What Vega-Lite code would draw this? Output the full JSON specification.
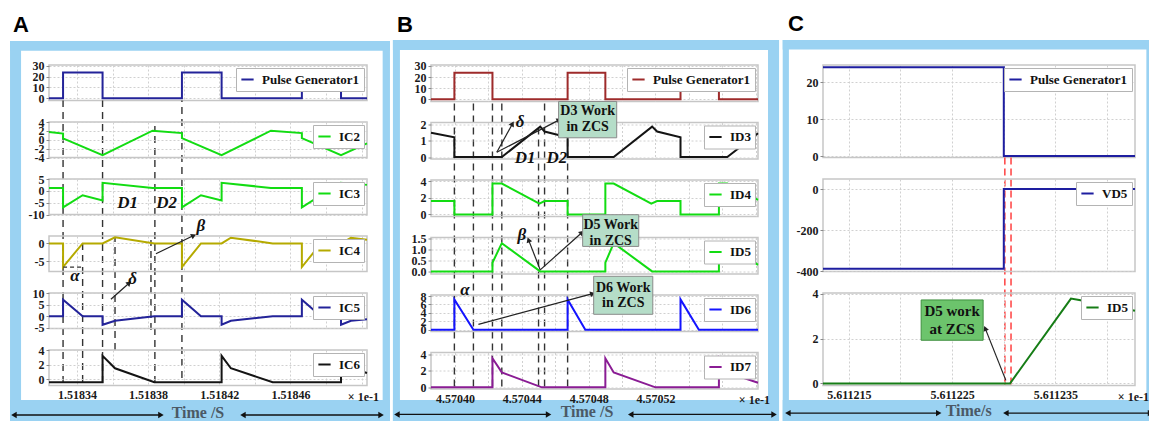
{
"$schema": "https://vega.github.io/schema/vega-lite/v6.json",
"background": "white",
"padding": {"left": 9, "top": 12, "right": 0, "bottom": 0},
"spacing": 1,
"resolve": {"scale": {"color": "independent"}},
"config": {
  "locale": {"number": {"decimal": ".", "thousands": ",", "grouping": [3], "currency": ["$", ""], "minus": "-"}},
  "view": {"stroke": "#c6c6c6", "strokeWidth": 1.5},
  "axis": {"labelFont": "Liberation Serif", "labelFontWeight": "bold", "labelFontSize": 12, "labelColor": "#1a1a1a", "domain": false, "grid": true, "gridColor": "#d0d0d0", "gridDash": [2, 2], "tickColor": "#8a8a8a", "tickSize": 3, "labelOverlap": false, "labelPadding": 2},
  "legend": {"orient": "top-right", "offset": 3, "symbolType": "stroke", "symbolStrokeWidth": 2.5, "symbolSize": 150, "labelFont": "Liberation Serif", "labelFontWeight": "bold", "labelFontSize": 13, "labelColor": "#111111", "fillColor": "white", "strokeColor": "#b4b4b4", "padding": 4, "labelOffset": 7},
  "title": {"font": "Liberation Sans", "fontWeight": "bold", "fontSize": 22, "anchor": "start", "color": "#000000", "frame": "group"},
  "line": {"strokeWidth": 2}
},
"datasets": {
  "A_pg": [{"t":1.5183243,"v":0},{"t":1.5183322,"v":24},{"t":1.5183544,"v":0},{"t":1.518399,"v":24},{"t":1.5184213,"v":0},{"t":1.5184664,"v":24},{"t":1.5184884,"v":0},{"t":1.518503,"v":0}],
  "A_ic2": [{"t":1.5183243,"v":1.76},{"t":1.5183322,"v":1.4},{"t":1.5183322,"v":0.3},{"t":1.5183544,"v":-3.45},{"t":1.5183825,"v":2.05},{"t":1.518399,"v":1.5},{"t":1.518399,"v":0.35},{"t":1.5184213,"v":-3.45},{"t":1.518449,"v":2.05},{"t":1.5184664,"v":1.5},{"t":1.5184664,"v":0.35},{"t":1.5184884,"v":-3.45},{"t":1.518503,"v":-0.8}],
  "A_ic3": [{"t":1.5183243,"v":1.3},{"t":1.5183322,"v":1.3},{"t":1.5183322,"v":-7},{"t":1.5183432,"v":-1.8},{"t":1.5183544,"v":-4},{"t":1.5183544,"v":3.5},{"t":1.5183825,"v":1.3},{"t":1.518399,"v":1.3},{"t":1.518399,"v":-7},{"t":1.5184097,"v":-1.8},{"t":1.5184213,"v":-4},{"t":1.5184213,"v":3.5},{"t":1.518449,"v":1.3},{"t":1.5184664,"v":1.3},{"t":1.5184664,"v":-7},{"t":1.5184771,"v":-1.8},{"t":1.5184884,"v":-4},{"t":1.5184884,"v":3.5},{"t":1.518503,"v":2.6}],
  "A_ic4": [{"t":1.5183243,"v":0},{"t":1.5183322,"v":0},{"t":1.5183322,"v":-6.6},{"t":1.5183432,"v":0},{"t":1.5183544,"v":0},{"t":1.5183614,"v":1.7},{"t":1.5183835,"v":0},{"t":1.518399,"v":0},{"t":1.518399,"v":-6.6},{"t":1.5184097,"v":0},{"t":1.5184213,"v":0},{"t":1.5184265,"v":1.6},{"t":1.51845,"v":0},{"t":1.5184664,"v":0},{"t":1.5184664,"v":-6.6},{"t":1.5184771,"v":0},{"t":1.5184884,"v":0},{"t":1.518494,"v":1.6},{"t":1.518503,"v":1.0}],
  "A_ic5": [{"t":1.5183243,"v":0},{"t":1.5183322,"v":0},{"t":1.5183322,"v":7.1},{"t":1.5183432,"v":0},{"t":1.5183544,"v":0},{"t":1.5183544,"v":-3.7},{"t":1.5183614,"v":-2},{"t":1.5183835,"v":0},{"t":1.518399,"v":0},{"t":1.518399,"v":7.1},{"t":1.5184097,"v":0},{"t":1.5184213,"v":0},{"t":1.5184213,"v":-3.7},{"t":1.5184265,"v":-2},{"t":1.51845,"v":0},{"t":1.5184664,"v":0},{"t":1.5184664,"v":7.1},{"t":1.5184771,"v":0},{"t":1.5184884,"v":0},{"t":1.5184884,"v":-3.7},{"t":1.518494,"v":-2},{"t":1.518503,"v":-1.3}],
  "A_ic6": [{"t":1.5183243,"v":-0.4},{"t":1.5183544,"v":-0.4},{"t":1.5183544,"v":3.2},{"t":1.5183614,"v":1.5},{"t":1.5183835,"v":-0.4},{"t":1.5184213,"v":-0.4},{"t":1.5184213,"v":3.2},{"t":1.5184265,"v":1.5},{"t":1.51845,"v":-0.4},{"t":1.5184884,"v":-0.4},{"t":1.5184884,"v":3.2},{"t":1.518494,"v":1.5},{"t":1.518503,"v":0.85}],
  "B_pg": [{"t":4.5703856,"v":0},{"t":4.5703996,"v":24},{"t":4.5704224,"v":0},{"t":4.5704674,"v":24},{"t":4.57049,"v":0},{"t":4.570535,"v":24},{"t":4.570558,"v":0},{"t":4.5705814,"v":0}],
  "B_id3": [{"t":4.5703856,"v":1.48},{"t":4.5703996,"v":1.2},{"t":4.5703996,"v":0},{"t":4.570428,"v":0},{"t":4.570451,"v":1.85},{"t":4.5704536,"v":1.55},{"t":4.5704674,"v":1.2},{"t":4.5704674,"v":0},{"t":4.570495,"v":0},{"t":4.570518,"v":1.85},{"t":4.570521,"v":1.55},{"t":4.570535,"v":1.2},{"t":4.570535,"v":0},{"t":4.570563,"v":0},{"t":4.5705814,"v":1.45}],
  "B_id4": [{"t":4.5703856,"v":1.6},{"t":4.5703996,"v":1.6},{"t":4.5703996,"v":0},{"t":4.5704224,"v":0},{"t":4.5704224,"v":3.7},{"t":4.570428,"v":3.7},{"t":4.5704505,"v":1.3},{"t":4.5704536,"v":1.6},{"t":4.5704674,"v":1.6},{"t":4.5704674,"v":0},{"t":4.57049,"v":0},{"t":4.57049,"v":3.7},{"t":4.570495,"v":3.7},{"t":4.5705175,"v":1.3},{"t":4.570521,"v":1.6},{"t":4.570535,"v":1.6},{"t":4.570535,"v":0},{"t":4.570558,"v":0},{"t":4.570558,"v":3.7},{"t":4.570563,"v":3.7},{"t":4.5705814,"v":1.75}],
  "B_id5": [{"t":4.5703856,"v":0},{"t":4.5704224,"v":0},{"t":4.5704224,"v":0.4},{"t":4.570428,"v":1.3},{"t":4.570451,"v":0},{"t":4.57049,"v":0},{"t":4.57049,"v":0.4},{"t":4.570495,"v":1.3},{"t":4.570518,"v":0},{"t":4.570558,"v":0},{"t":4.570558,"v":0.4},{"t":4.570563,"v":1.3},{"t":4.5705814,"v":0.3}],
  "B_id6": [{"t":4.5703856,"v":0},{"t":4.5703996,"v":0},{"t":4.5703996,"v":7.2},{"t":4.570411,"v":0},{"t":4.5704674,"v":0},{"t":4.5704674,"v":7.2},{"t":4.570478,"v":0},{"t":4.570535,"v":0},{"t":4.570535,"v":7.2},{"t":4.570546,"v":0},{"t":4.5705814,"v":0}],
  "B_id7": [{"t":4.5703856,"v":0},{"t":4.5704224,"v":0},{"t":4.5704224,"v":3.5},{"t":4.570428,"v":1.8},{"t":4.570452,"v":0},{"t":4.57049,"v":0},{"t":4.57049,"v":3.5},{"t":4.570495,"v":1.8},{"t":4.57052,"v":0},{"t":4.570558,"v":0},{"t":4.570558,"v":3.5},{"t":4.570563,"v":1.8},{"t":4.5705814,"v":0.55}],
  "C_pg": [{"t":5.6112125,"v":24},{"t":5.61123,"v":0},{"t":5.6112427,"v":0}],
  "C_vd5": [{"t":5.6112125,"v":-388},{"t":5.61123,"v":0},{"t":5.6112427,"v":0}],
  "C_id5": [{"t":5.6112125,"v":0},{"t":5.6112306,"v":0},{"t":5.6112365,"v":3.79},{"t":5.6112373,"v":3.73},{"t":5.6112427,"v":3.25}]
},
"hconcat": [
 {
  "bounds": "flush", "spacing": 21,
  "resolve": {"scale": {"color": "independent"}},
  "vconcat": [
   {
    "width": 318, "height": 35.5,
    "title": {"text": "A", "dx": -36, "offset": 3.5},
    "encoding": {
      "x": {"field": "t", "type": "quantitative", "scale": {"domain": [1.5183243, 1.518503], "nice": false, "zero": false}, "axis": {"values": [1.51834,1.51836,1.51838,1.5184,1.51842,1.51844,1.51846,1.51848,1.5185], "labels": false, "ticks": false, "title": null}},
      "y": {"field": "v", "type": "quantitative", "scale": {"domain": [-2.2, 30.9], "nice": false, "zero": false}, "axis": {"values": [0,10,20,30], "title": null}}
    },
    "layer": [
      {"data": {"values": [{"t":1.5183024,"t2":1.5183086,"v":-301.03,"v2":53.28},{"t":1.5185118,"t2":1.5185159,"v":-301.03,"v2":53.28},{"t":1.5183024,"t2":1.5185159,"v":44.23,"v2":53.28},{"t":1.5183024,"t2":1.5185159,"v":-301.03,"v2":-281.45}]}, "mark": {"type": "rect", "fill": "#9ad2f2"}, "encoding": {"x2": {"field": "t2"}, "y2": {"field": "v2"}}},
      {"data": {"values": [{"t":1.5183322,"v":-265.6,"v2":-2.2},{"t":1.5183544,"v":-265.6,"v2":-2.2},{"t":1.5183838,"v":-265.6,"v2":-25.98},{"t":1.518399,"v":-260.9,"v2":-2.2},{"t":1.5183432,"v":-264.7,"v2":-132.27},{"t":1.5183614,"v":-234.83,"v2":-129.47},{"t":1.5183816,"v":-216.18,"v2":-132.27}]}, "mark": {"type": "rule", "strokeDash": [7,5], "color": "#333333", "strokeWidth": 1.4}, "encoding": {"y2": {"field": "v2"}}},
      {"data": {"name": "A_pg"}, "mark": {"type": "line", "interpolate": "step-after"}, "encoding": {"color": {"datum": "Pulse Generator1", "scale": {"range": ["#232399"]}, "legend": {"title": null}}}}
    ]
   },
   {
    "width": 318, "height": 35.5,
    "encoding": {
      "x": {"field": "t", "type": "quantitative", "scale": {"domain": [1.5183243, 1.518503], "nice": false, "zero": false}, "axis": {"values": [1.51834,1.51836,1.51838,1.5184,1.51842,1.51844,1.51846,1.51848,1.5185], "labels": false, "ticks": false, "title": null}},
      "y": {"field": "v", "type": "quantitative", "scale": {"domain": [-4, 4], "nice": false, "zero": false}, "axis": {"values": [-4,-2,0,2,4], "title": null}}
    },
    "layer": [
      {"data": {"name": "A_ic2"}, "mark": {"type": "line"}, "encoding": {"order": {"value": null}, "color": {"datum": "IC2", "scale": {"range": ["#12dc12"]}, "legend": {"title": null}}}}
    ]
   },
   {
    "width": 318, "height": 35.5,
    "encoding": {
      "x": {"field": "t", "type": "quantitative", "scale": {"domain": [1.5183243, 1.518503], "nice": false, "zero": false}, "axis": {"values": [1.51834,1.51836,1.51838,1.5184,1.51842,1.51844,1.51846,1.51848,1.5185], "labels": false, "ticks": false, "title": null}},
      "y": {"field": "v", "type": "quantitative", "scale": {"domain": [-10, 5.1], "nice": false, "zero": false}, "axis": {"values": [-10,-5,0,5], "title": null}}
    },
    "layer": [
      {"data": {"name": "A_ic3"}, "mark": {"type": "line"}, "encoding": {"order": {"value": null}, "color": {"datum": "IC3", "scale": {"range": ["#12dc12"]}, "legend": {"title": null}}}},
      {"data": {"values": [{"t":1.5183685,"v":-5,"s":"D1"},{"t":1.5183904,"v":-5,"s":"D2"}]}, "mark": {"type": "text", "font": "Liberation Serif", "fontStyle": "italic", "fontWeight": "bold", "fontSize": 17, "color": "#111111"}, "encoding": {"text": {"field": "s"}}}
    ]
   },
   {
    "width": 318, "height": 35.5,
    "encoding": {
      "x": {"field": "t", "type": "quantitative", "scale": {"domain": [1.5183243, 1.518503], "nice": false, "zero": false}, "axis": {"values": [1.51834,1.51836,1.51838,1.5184,1.51842,1.51844,1.51846,1.51848,1.5185], "labels": false, "ticks": false, "title": null}},
      "y": {"field": "v", "type": "quantitative", "scale": {"domain": [-7.85, 2.07], "nice": false, "zero": false}, "axis": {"values": [-5,0], "title": null}}
    },
    "layer": [
      {"data": {"name": "A_ic4"}, "mark": {"type": "line"}, "encoding": {"order": {"value": null}, "color": {"datum": "IC4", "scale": {"range": ["#b5aa00"]}, "legend": {"title": null}}}},
      {"data": {"values": [{"t":1.5183322,"t2":1.5183432,"v":-6.65,"v2":-6.65}]}, "mark": {"type": "rule", "strokeDash": [4,3], "color": "#333333", "strokeWidth": 1.2}, "encoding": {"x2": {"field": "t2"}, "y2": {"field": "v2"}}},
      {"data": {"values": [{"t":1.5183844,"v":-2.9,"t2":1.5184056,"v2":2.2}]}, "mark": {"type": "rule", "color": "#222222", "strokeWidth": 1.2}, "encoding": {"x2": {"field": "t2"}, "y2": {"field": "v2"}}},
      {"data": {"values": [{"t":1.5184056,"v":2.2}]}, "mark": {"type": "point", "shape": "triangle-up", "filled": true, "size": 35, "angle": 64, "color": "#222222", "opacity": 1}, "encoding": {}},
      {"data": {"values": [{"t":1.5184097,"v":5.0,"s":"β"},{"t":1.5183389,"v":-9.24,"s":"α"}]}, "mark": {"type": "text", "font": "Liberation Serif", "fontStyle": "italic", "fontWeight": "bold", "fontSize": 17, "color": "#111111"}, "encoding": {"text": {"field": "s"}}}
    ]
   },
   {
    "width": 318, "height": 35.5,
    "encoding": {
      "x": {"field": "t", "type": "quantitative", "scale": {"domain": [1.5183243, 1.518503], "nice": false, "zero": false}, "axis": {"values": [1.51834,1.51836,1.51838,1.5184,1.51842,1.51844,1.51846,1.51848,1.5185], "labels": false, "ticks": false, "title": null}},
      "y": {"field": "v", "type": "quantitative", "scale": {"domain": [-5.3, 10], "nice": false, "zero": false}, "axis": {"values": [-5,0,5,10], "title": null}}
    },
    "layer": [
      {"data": {"name": "A_ic5"}, "mark": {"type": "line"}, "encoding": {"order": {"value": null}, "color": {"datum": "IC5", "scale": {"range": ["#232399"]}, "legend": {"title": null}}}},
      {"data": {"values": [{"t":1.5183591,"v":7.28,"t2":1.5183694,"v2":14.3}]}, "mark": {"type": "rule", "color": "#222222", "strokeWidth": 1.2}, "encoding": {"x2": {"field": "t2"}, "y2": {"field": "v2"}}},
      {"data": {"values": [{"t":1.5183694,"v":14.3}]}, "mark": {"type": "point", "shape": "triangle-up", "filled": true, "size": 35, "angle": 48, "color": "#222222", "opacity": 1}, "encoding": {}},
      {"data": {"values": [{"t":1.5183713,"v":15.9,"s":"δ"}]}, "mark": {"type": "text", "font": "Liberation Serif", "fontStyle": "italic", "fontWeight": "bold", "fontSize": 17, "color": "#111111"}, "encoding": {"text": {"field": "s"}}}
    ]
   },
   {
    "width": 318, "height": 35.5,
    "encoding": {
      "x": {"field": "t", "type": "quantitative", "scale": {"domain": [1.5183243, 1.518503], "nice": false, "zero": false}, "axis": {"values": [1.51834,1.51836,1.51838,1.5184,1.51842,1.51844,1.51846,1.51848,1.5185], "format": ".5f", "labelExpr": "indexof(['1.51834','1.51838','1.51842','1.51846'], datum.label) >= 0 ? datum.label : ''", "ticks": false, "labelPadding": 4, "title": null}},
      "y": {"field": "v", "type": "quantitative", "scale": {"domain": [-0.86, 4], "nice": false, "zero": false}, "axis": {"values": [0,2,4], "title": null}}
    },
    "layer": [
      {"data": {"name": "A_ic6"}, "mark": {"type": "line"}, "encoding": {"order": {"value": null}, "color": {"datum": "IC6", "scale": {"range": ["#141414"]}, "legend": {"title": null}}}},
      {"data": {"values": [{"t":1.518503,"v":-0.86,"s":"× 1e-1"}]}, "mark": {"type": "text", "align": "right", "baseline": "middle", "dx": 12, "dy": 11, "font": "Liberation Serif", "fontWeight": "bold", "fontSize": 12, "color": "#1a1a1a"}, "encoding": {"text": {"field": "s"}}},
      {"data": {"values": [{"t":1.5183046,"t2":1.5183872,"v":-4.9},{"t":1.5184333,"t2":1.5185109,"v":-4.9}]}, "mark": {"type": "rule", "color": "#111111", "strokeWidth": 1.3}, "encoding": {"x2": {"field": "t2"}}},
      {"data": {"values": [{"t":1.5183046,"v":-4.9},{"t":1.5184333,"v":-4.9}]}, "mark": {"type": "point", "shape": "triangle-left", "filled": true, "size": 40, "color": "#111111", "opacity": 1}, "encoding": {}},
      {"data": {"values": [{"t":1.5183872,"v":-4.9},{"t":1.5185109,"v":-4.9}]}, "mark": {"type": "point", "shape": "triangle-right", "filled": true, "size": 40, "color": "#111111", "opacity": 1}, "encoding": {}},
      {"data": {"values": [{"t":1.518408,"v":-4.56,"s":"Time /S"}]}, "mark": {"type": "text", "baseline": "middle", "font": "Liberation Serif", "fontWeight": "bold", "fontSize": 16, "color": "#4b5966"}, "encoding": {"text": {"field": "s"}}}
    ]
   }
  ]
 },
 {
  "bounds": "flush", "spacing": 20.5,
  "resolve": {"scale": {"color": "independent"}},
  "vconcat": [
   {
    "width": 327, "height": 36.5,
    "title": {"text": "B", "dx": -34, "offset": 3.5},
    "encoding": {
      "x": {"field": "t", "type": "quantitative", "scale": {"domain": [4.5703856, 4.5705814], "nice": false, "zero": false}, "axis": {"values": [4.5704,4.57042,4.57044,4.57046,4.57048,4.5705,4.57052,4.57054,4.57056,4.57058], "labels": false, "ticks": false, "title": null}},
      "y": {"field": "v", "type": "quantitative", "scale": {"domain": [-2, 30.9], "nice": false, "zero": false}, "axis": {"values": [0,10,20,30], "title": null}}
    },
    "layer": [
      {"data": {"values": [{"t":4.5703628,"t2":4.570367,"v":-289.99,"v2":53.43},{"t":4.5705874,"t2":4.570594,"v":-289.99,"v2":53.43},{"t":4.5703628,"t2":4.570594,"v":44.42,"v2":53.43},{"t":4.5703628,"t2":4.570594,"v":-289.99,"v2":-271.06}]}, "mark": {"type": "rect", "fill": "#9ad2f2"}, "encoding": {"x2": {"field": "t2"}, "y2": {"field": "v2"}}},
      {"data": {"values": [{"t":4.5703996,"v":-258.9,"v2":-2},{"t":4.570411,"v":-258.9,"v2":-2},{"t":4.5704224,"v":-258.9,"v2":-2},{"t":4.570428,"v":-258.9,"v2":-2},{"t":4.57045,"v":-258.9,"v2":-25.89},{"t":4.5704536,"v":-258.9,"v2":-3.35},{"t":4.5704674,"v":-258.9,"v2":-33.73}]}, "mark": {"type": "rule", "strokeDash": [7,5], "color": "#333333", "strokeWidth": 1.4}, "encoding": {"y2": {"field": "v2"}}},
      {"data": {"name": "B_pg"}, "mark": {"type": "line", "interpolate": "step-after"}, "encoding": {"color": {"datum": "Pulse Generator1", "scale": {"range": ["#9e2b2b"]}, "legend": {"title": null}}}}
    ]
   },
   {
    "width": 327, "height": 36.5,
    "encoding": {
      "x": {"field": "t", "type": "quantitative", "scale": {"domain": [4.5703856, 4.5705814], "nice": false, "zero": false}, "axis": {"values": [4.5704,4.57042,4.57044,4.57046,4.57048,4.5705,4.57052,4.57054,4.57056,4.57058], "labels": false, "ticks": false, "title": null}},
      "y": {"field": "v", "type": "quantitative", "scale": {"domain": [-0.12, 2.1], "nice": false, "zero": false}, "axis": {"values": [0,1,2], "title": null}}
    },
    "layer": [
      {"data": {"name": "B_id3"}, "mark": {"type": "line"}, "encoding": {"order": {"value": null}, "color": {"datum": "ID3", "scale": {"range": ["#141414"]}, "legend": {"title": null}}}},
      {"data": {"values": [{"t":4.570425,"v":0.29,"t2":4.5704344,"v2":2.02},{"t":4.570425,"v":0.29,"t2":4.5704624,"v2":2.26}]}, "mark": {"type": "rule", "color": "#222222", "strokeWidth": 1.2}, "encoding": {"x2": {"field": "t2"}, "y2": {"field": "v2"}}},
      {"data": {"values": [{"t":4.5704344,"v":2.02}]}, "mark": {"type": "point", "shape": "triangle-up", "filled": true, "size": 35, "angle": 29, "color": "#222222", "opacity": 1}, "encoding": {}},
      {"data": {"values": [{"t":4.5704624,"v":2.26}]}, "mark": {"type": "point", "shape": "triangle-up", "filled": true, "size": 35, "angle": 63, "color": "#222222", "opacity": 1}, "encoding": {}},
      {"data": {"values": [{"t":4.570462,"t2":4.5704968,"v":1.17,"v2":3.38}]}, "mark": {"type": "rect", "fill": "#b5ddc8", "stroke": "#8a8a8a", "strokeWidth": 1}, "encoding": {"x2": {"field": "t2"}, "y2": {"field": "v2"}}},
      {"data": {"values": [{"t":4.5704794,"v":2.77,"s":"D3 Work"},{"t":4.5704794,"v":1.82,"s":"in ZCS"}]}, "mark": {"type": "text", "font": "Liberation Serif", "fontWeight": "bold", "fontSize": 14, "color": "#111111"}, "encoding": {"text": {"field": "s"}}},
      {"data": {"values": [{"t":4.570439,"v":2.15,"s":"δ"},{"t":4.570442,"v":-0.04,"s":"D1"},{"t":4.570461,"v":-0.04,"s":"D2"}]}, "mark": {"type": "text", "font": "Liberation Serif", "fontStyle": "italic", "fontWeight": "bold", "fontSize": 17, "color": "#111111"}, "encoding": {"text": {"field": "s"}}}
    ]
   },
   {
    "width": 327, "height": 36.5,
    "encoding": {
      "x": {"field": "t", "type": "quantitative", "scale": {"domain": [4.5703856, 4.5705814], "nice": false, "zero": false}, "axis": {"values": [4.5704,4.57042,4.57044,4.57046,4.57048,4.5705,4.57052,4.57054,4.57056,4.57058], "labels": false, "ticks": false, "title": null}},
      "y": {"field": "v", "type": "quantitative", "scale": {"domain": [-0.25, 4.12], "nice": false, "zero": false}, "axis": {"values": [0,2,4], "title": null}}
    },
    "layer": [
      {"data": {"name": "B_id4"}, "mark": {"type": "line"}, "encoding": {"order": {"value": null}, "color": {"datum": "ID4", "scale": {"range": ["#12dc12"]}, "legend": {"title": null}}}}
    ]
   },
   {
    "width": 327, "height": 36.5,
    "encoding": {
      "x": {"field": "t", "type": "quantitative", "scale": {"domain": [4.5703856, 4.5705814], "nice": false, "zero": false}, "axis": {"values": [4.5704,4.57042,4.57044,4.57046,4.57048,4.5705,4.57052,4.57054,4.57056,4.57058], "labels": false, "ticks": false, "title": null}},
      "y": {"field": "v", "type": "quantitative", "scale": {"domain": [-0.12, 1.56], "nice": false, "zero": false}, "axis": {"values": [0,0.5,1,1.5], "format": ".1f", "title": null}}
    },
    "layer": [
      {"data": {"name": "B_id5"}, "mark": {"type": "line"}, "encoding": {"order": {"value": null}, "color": {"datum": "ID5", "scale": {"range": ["#12dc12"]}, "legend": {"title": null}}}},
      {"data": {"values": [{"t":4.570451,"v":0.07,"t2":4.570444,"v2":1.45},{"t":4.570451,"v":0.07,"t2":4.570476,"v2":1.79}]}, "mark": {"type": "rule", "color": "#222222", "strokeWidth": 1.2}, "encoding": {"x2": {"field": "t2"}, "y2": {"field": "v2"}}},
      {"data": {"values": [{"t":4.570444,"v":1.45}]}, "mark": {"type": "point", "shape": "triangle-up", "filled": true, "size": 35, "angle": -21, "color": "#222222", "opacity": 1}, "encoding": {}},
      {"data": {"values": [{"t":4.570476,"v":1.79}]}, "mark": {"type": "point", "shape": "triangle-up", "filled": true, "size": 35, "angle": 48, "color": "#222222", "opacity": 1}, "encoding": {}},
      {"data": {"values": [{"t":4.5704764,"t2":4.57051,"v":1.15,"v2":2.61}]}, "mark": {"type": "rect", "fill": "#b5ddc8", "stroke": "#8a8a8a", "strokeWidth": 1}, "encoding": {"x2": {"field": "t2"}, "y2": {"field": "v2"}}},
      {"data": {"values": [{"t":4.5704932,"v":2.15,"s":"D5 Work"},{"t":4.5704932,"v":1.41,"s":"in ZCS"}]}, "mark": {"type": "text", "font": "Liberation Serif", "fontWeight": "bold", "fontSize": 14, "color": "#111111"}, "encoding": {"text": {"field": "s"}}},
      {"data": {"values": [{"t":4.57044,"v":1.68,"s":"β"}]}, "mark": {"type": "text", "font": "Liberation Serif", "fontStyle": "italic", "fontWeight": "bold", "fontSize": 17, "color": "#111111"}, "encoding": {"text": {"field": "s"}}}
    ]
   },
   {
    "width": 327, "height": 36.5,
    "encoding": {
      "x": {"field": "t", "type": "quantitative", "scale": {"domain": [4.5703856, 4.5705814], "nice": false, "zero": false}, "axis": {"values": [4.5704,4.57042,4.57044,4.57046,4.57048,4.5705,4.57052,4.57054,4.57056,4.57058], "labels": false, "ticks": false, "title": null}},
      "y": {"field": "v", "type": "quantitative", "scale": {"domain": [-0.4, 8.24], "nice": false, "zero": false}, "axis": {"values": [0,2,4,6,8], "title": null}}
    },
    "layer": [
      {"data": {"name": "B_id6"}, "mark": {"type": "line"}, "encoding": {"order": {"value": null}, "color": {"datum": "ID6", "scale": {"range": ["#1414ff"]}, "legend": {"title": null}}}},
      {"data": {"values": [{"t":4.570414,"v":1.3,"t2":4.5704824,"v2":8.55}]}, "mark": {"type": "rule", "color": "#222222", "strokeWidth": 1.2}, "encoding": {"x2": {"field": "t2"}, "y2": {"field": "v2"}}},
      {"data": {"values": [{"t":4.5704824,"v":8.55}]}, "mark": {"type": "point", "shape": "triangle-up", "filled": true, "size": 35, "angle": 75, "color": "#222222", "opacity": 1}, "encoding": {}},
      {"data": {"values": [{"t":4.570483,"t2":4.5705184,"v":3.67,"v2":12.67}]}, "mark": {"type": "rect", "fill": "#b5ddc8", "stroke": "#8a8a8a", "strokeWidth": 1}, "encoding": {"x2": {"field": "t2"}, "y2": {"field": "v2"}}},
      {"data": {"values": [{"t":4.5705007,"v":9.97,"s":"D6 Work"},{"t":4.5705007,"v":6.34,"s":"in ZCS"}]}, "mark": {"type": "text", "font": "Liberation Serif", "fontWeight": "bold", "fontSize": 14, "color": "#111111"}, "encoding": {"text": {"field": "s"}}},
      {"data": {"values": [{"t":4.570406,"v":9.35,"s":"α"}]}, "mark": {"type": "text", "font": "Liberation Serif", "fontStyle": "italic", "fontWeight": "bold", "fontSize": 17, "color": "#111111"}, "encoding": {"text": {"field": "s"}}}
    ]
   },
   {
    "width": 327, "height": 36.5,
    "encoding": {
      "x": {"field": "t", "type": "quantitative", "scale": {"domain": [4.5703856, 4.5705814], "nice": false, "zero": false}, "axis": {"values": [4.5704,4.57042,4.57044,4.57046,4.57048,4.5705,4.57052,4.57054,4.57056,4.57058], "format": ".5f", "labelExpr": "indexof(['4.57040','4.57044','4.57048','4.57052'], datum.label) >= 0 ? datum.label : ''", "ticks": false, "labelPadding": 4, "title": null}},
      "y": {"field": "v", "type": "quantitative", "scale": {"domain": [-0.2, 4.2], "nice": false, "zero": false}, "axis": {"values": [0,2,4], "title": null}}
    },
    "layer": [
      {"data": {"name": "B_id7"}, "mark": {"type": "line"}, "encoding": {"order": {"value": null}, "color": {"datum": "ID7", "scale": {"range": ["#8a1c94"]}, "legend": {"title": null}}}},
      {"data": {"values": [{"t":4.5705814,"v":-0.2,"s":"× 1e-1"}]}, "mark": {"type": "text", "align": "right", "baseline": "middle", "dx": 12, "dy": 11, "font": "Liberation Serif", "fontWeight": "bold", "fontSize": 12, "color": "#1a1a1a"}, "encoding": {"text": {"field": "s"}}},
      {"data": {"values": [{"t":4.5703652,"t2":4.570456,"v":-3.27},{"t":4.5705052,"t2":4.570591,"v":-3.27}]}, "mark": {"type": "rule", "color": "#111111", "strokeWidth": 1.3}, "encoding": {"x2": {"field": "t2"}}},
      {"data": {"values": [{"t":4.5703652,"v":-3.27},{"t":4.5705052,"v":-3.27}]}, "mark": {"type": "point", "shape": "triangle-left", "filled": true, "size": 40, "color": "#111111", "opacity": 1}, "encoding": {}},
      {"data": {"values": [{"t":4.570456,"v":-3.27},{"t":4.570591,"v":-3.27}]}, "mark": {"type": "point", "shape": "triangle-right", "filled": true, "size": 40, "color": "#111111", "opacity": 1}, "encoding": {}},
      {"data": {"values": [{"t":4.570479,"v":-3.03,"s":"Time /S"}]}, "mark": {"type": "text", "baseline": "middle", "font": "Liberation Serif", "fontWeight": "bold", "fontSize": 16, "color": "#4b5966"}, "encoding": {"text": {"field": "s"}}}
    ]
   }
  ]
 },
 {
  "bounds": "flush", "spacing": 21,
  "resolve": {"scale": {"color": "independent"}},
  "vconcat": [
   {
    "width": 312, "height": 92.5,
    "title": {"text": "C", "dx": -35, "offset": 3.5},
    "encoding": {
      "x": {"field": "t", "type": "quantitative", "scale": {"domain": [5.6112125, 5.6112427], "nice": false, "zero": false}, "axis": {"values": [5.61121,5.611215,5.61122,5.611225,5.61123,5.611235,5.61124], "labels": false, "ticks": false, "title": null}},
      "y": {"field": "v", "type": "quantitative", "scale": {"domain": [-0.4, 24.6], "nice": false, "zero": false}, "axis": {"values": [0,10,20], "title": null}}
    },
    "layer": [
      {"data": {"values": [{"t":5.6112086,"t2":5.6112092,"v":-71.62,"v2":31.36},{"t":5.6112438,"t2":5.6112447,"v":-71.62,"v2":31.36},{"t":5.6112086,"t2":5.6112447,"v":28.79,"v2":31.36},{"t":5.6112086,"t2":5.6112447,"v":-71.62,"v2":-65.94}]}, "mark": {"type": "rect", "fill": "#9ad2f2"}, "encoding": {"x2": {"field": "t2"}, "y2": {"field": "v2"}}},
      {"data": {"values": [{"t":5.6112301,"v":-61.75,"v2":-0.4},{"t":5.6112307,"v":-61.75,"v2":-0.4}]}, "mark": {"type": "rule", "strokeDash": [7,4], "color": "#ff4d4d", "strokeWidth": 1.6}, "encoding": {"y2": {"field": "v2"}}},
      {"data": {"name": "C_pg"}, "mark": {"type": "line", "interpolate": "step-after"}, "encoding": {"color": {"datum": "Pulse Generator1", "scale": {"range": ["#1e1ea0"]}, "legend": {"title": null}}}}
    ]
   },
   {
    "width": 312, "height": 92.5,
    "encoding": {
      "x": {"field": "t", "type": "quantitative", "scale": {"domain": [5.6112125, 5.6112427], "nice": false, "zero": false}, "axis": {"values": [5.61121,5.611215,5.61122,5.611225,5.61123,5.611235,5.61124], "labels": false, "ticks": false, "title": null}},
      "y": {"field": "v", "type": "quantitative", "scale": {"domain": [-402, 49], "nice": false, "zero": false}, "axis": {"values": [-400,-200,0], "title": null}}
    },
    "layer": [
      {"data": {"name": "C_vd5"}, "mark": {"type": "line", "interpolate": "step-after"}, "encoding": {"color": {"datum": "VD5", "scale": {"range": ["#1e1ea0"]}, "legend": {"title": null}}}}
    ]
   },
   {
    "width": 312, "height": 92.5,
    "encoding": {
      "x": {"field": "t", "type": "quantitative", "scale": {"domain": [5.6112125, 5.6112427], "nice": false, "zero": false}, "axis": {"values": [5.61121,5.611215,5.61122,5.611225,5.61123,5.611235,5.61124], "format": ".6f", "labelExpr": "indexof(['5.611215','5.611225','5.611235'], datum.label) >= 0 ? datum.label : ''", "ticks": false, "labelPadding": 4, "title": null}},
      "y": {"field": "v", "type": "quantitative", "scale": {"domain": [-0.09, 4.04], "nice": false, "zero": false}, "axis": {"values": [0,2,4], "title": null}}
    },
    "layer": [
      {"data": {"name": "C_id5"}, "mark": {"type": "line"}, "encoding": {"color": {"datum": "ID5", "scale": {"range": ["#167d16"]}, "legend": {"title": null}}}},
      {"data": {"values": [{"t":5.6112302,"v":0.14,"t2":5.6112282,"v2":2.46}]}, "mark": {"type": "rule", "color": "#222222", "strokeWidth": 1.2}, "encoding": {"x2": {"field": "t2"}, "y2": {"field": "v2"}}},
      {"data": {"values": [{"t":5.6112282,"v":2.46}]}, "mark": {"type": "point", "shape": "triangle-up", "filled": true, "size": 35, "angle": -22, "color": "#222222", "opacity": 1}, "encoding": {}},
      {"data": {"values": [{"t":5.611222,"t2":5.611228,"v":1.93,"v2":3.73}]}, "mark": {"type": "rect", "fill": "#6cc46c", "stroke": "#3f8f3f", "strokeWidth": 1}, "encoding": {"x2": {"field": "t2"}, "y2": {"field": "v2"}}},
      {"data": {"values": [{"t":5.611225,"v":3.23,"s":"D5 work"},{"t":5.611225,"v":2.44,"s":"at ZCS"}]}, "mark": {"type": "text", "font": "Liberation Serif", "fontWeight": "bold", "fontSize": 15, "color": "#111111"}, "encoding": {"text": {"field": "s"}}},
      {"data": {"values": [{"t":5.6112427,"v":-0.09,"s":"× 1e-1"}]}, "mark": {"type": "text", "align": "right", "baseline": "middle", "dx": 14, "dy": 11, "font": "Liberation Serif", "fontWeight": "bold", "fontSize": 12, "color": "#1a1a1a"}, "encoding": {"text": {"field": "s"}}},
      {"data": {"values": [{"t":5.6112091,"t2":5.6112237,"v":-1.32},{"t":5.6112302,"t2":5.6112442,"v":-1.32}]}, "mark": {"type": "rule", "color": "#111111", "strokeWidth": 1.3}, "encoding": {"x2": {"field": "t2"}}},
      {"data": {"values": [{"t":5.6112091,"v":-1.32},{"t":5.6112302,"v":-1.32}]}, "mark": {"type": "point", "shape": "triangle-left", "filled": true, "size": 40, "color": "#111111", "opacity": 1}, "encoding": {}},
      {"data": {"values": [{"t":5.6112237,"v":-1.32},{"t":5.6112442,"v":-1.32}]}, "mark": {"type": "point", "shape": "triangle-right", "filled": true, "size": 40, "color": "#111111", "opacity": 1}, "encoding": {}},
      {"data": {"values": [{"t":5.6112266,"v":-1.23,"s":"Time/s"}]}, "mark": {"type": "text", "baseline": "middle", "font": "Liberation Serif", "fontWeight": "bold", "fontSize": 16, "color": "#4b5966"}, "encoding": {"text": {"field": "s"}}}
    ]
   }
  ]
 }
]
}
